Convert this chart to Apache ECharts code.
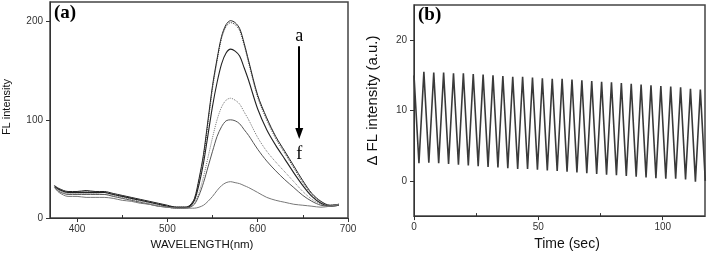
<!DOCTYPE html>
<html><head><meta charset="utf-8">
<script src="https://cdn.jsdelivr.net/npm/echarts@6/dist/echarts.min.js"></script>
<style>html,body{margin:0;padding:0;background:#fff}#c{width:709px;height:256px}</style>
</head><body><div id="c"></div>
<script>
// Panel (a): wavelength grid (nm) and FL intensity curves a..f
const wavelengths = [375,380,390,400,410,420,430,440,450,460,470,480,490,500,510,520,525,530,535,540,545,550,555,560,565,570,575,580,585,590,600,610,620,630,640,650,660,670,680,690];
const curveA = [33,30,27,27,28,27,27,25,23,21,19,17,15,13,11,11,13, 20,40,65,100,135,162,185,197,201,199,193,178,160,125,102,83,68,53,38,25,17,13,14];
const curveB = [33,29,26,27,27,27,26,24,22,20,18,16,14,12,11,11,12, 19,38,62,97,132,160,183,195,199,197,191,176,158,123,100,81,66,51,36,24,16,13,14];
const curveC = [32,29,26,26,26,26,26,24,22,20,18,16,14,12,11,11,12, 18,34,56,85,114,138,157,168,172,170,165,153,140,111,90,74,60,46,33,22,15,12,13];
const curveD = [32,28,25,25,25,25,24,23,21,19,17,15,13,11,10,10,11, 15,26,42,62,82,100,113,120,122,120,116,108,100,82,68,57,47,37,27,19,14,12,13];
const curveE = [31,27,24,24,24,24,24,22,20,18,16,14,12,11,10,10,11, 14,23,36,52,68,83,93,99,100,99,96,90,84,70,58,48,39,31,23,17,13,12,13];
const curveF = [31,26,22,22,21,21,21,20,18,17,15,14,12,11,10,10,10, 10,11,13,17,22,28,33,36,37,36,35,33,31,26,21,18,16,14,13,12,11,12,14];
const xTicksA = [400,500,600,700];
const xMinorA = [450,550,650];
const yTicksA = [0,100,200];

// Panel (b): oscillation peaks and troughs (delta FL intensity, a.u.)
const halfPeriod = 1.985; // seconds between a peak and the next trough
const peaksB = [15.0,15.5,15.4,15.4,15.3,15.3,15.2,15.1,15.0,14.9,14.8,14.8,14.7,14.6,14.5,14.5,14.4,14.3,14.2,14.1,14.0,13.9,13.8,13.7,13.6,13.5,13.4,13.3,13.1,13.0];
const troughsB = [2.5,2.6,2.5,2.4,2.3,2.2,2.1,2.0,1.9,1.8,1.7,1.7,1.6,1.5,1.4,1.3,1.2,1.1,1.0,0.9,0.8,0.7,0.6,0.5,0.4,0.3,0.3,0.2,-0.1,0.0];
const xTicksB = [0,50,100];
const xMinorB = [25,75];
const yTicksB = [0,10,20];

const seriesB = [];
for (let i = 0; i < peaksB.length; i++) {
  seriesB.push([2 * i * halfPeriod, peaksB[i]]);
  if (i < troughsB.length) seriesB.push([(2 * i + 1) * halfPeriod, troughsB[i]]);
}
const pair = arr => wavelengths.map((w, i) => [w, arr[i]]);

const font = 'Liberation Sans, Arial, sans-serif';
const axisCol = '#333';
const lbl = {color: '#333', fontSize: 10, fontFamily: font};

function xAx(gi, min, max, ticks, name, gap, fs, pad) {
  return {type: 'value', gridIndex: gi, min, max, name, nameLocation: 'middle', nameGap: gap,
    nameTextStyle: {fontSize: fs, fontFamily: font, color: '#111', padding: pad},
    axisLine: {show: true, onZero: false, lineStyle: {color: axisCol, width: 1}},
    axisTick: {show: true, length: 4, customValues: ticks, lineStyle: {color: axisCol}},
    axisLabel: Object.assign({customValues: ticks, margin: 6}, lbl),
    splitLine: {show: false}};
}
function xMinor(gi, min, max, ticks) {
  return {type: 'value', gridIndex: gi, min, max, position: 'bottom',
    axisLine: {show: false, onZero: false}, axisLabel: {show: false}, splitLine: {show: false},
    axisTick: {show: true, inside: true, length: 3, customValues: ticks, lineStyle: {color: axisCol}}};
}
function yAx(gi, min, max, ticks, name, gap, fs, pad) {
  return {type: 'value', gridIndex: gi, min, max, name, nameLocation: 'middle', nameGap: gap,
    nameTextStyle: {fontSize: fs, fontFamily: font, color: '#111', padding: pad},
    axisLine: {show: true, onZero: false, lineStyle: {color: axisCol, width: 1}},
    axisTick: {show: true, length: 4, customValues: ticks, lineStyle: {color: axisCol}},
    axisLabel: Object.assign({customValues: ticks, margin: 7}, lbl),
    splitLine: {show: false}};
}

function lineS(data, color, type, width) {
  return {type: 'line', xAxisIndex: 0, yAxisIndex: 0, data, showSymbol: false, symbol: 'none',
    smooth: 0.3, lineStyle: {color, type, width}, silent: true, animation: false};
}

const chart = echarts.init(document.getElementById('c'), null, {renderer: 'canvas'});
chart.setOption({
  animation: false,
  grid: [
    {left: 49, right: 361, top: 2, bottom: 36, show: true, borderColor: '#444', borderWidth: 1.5},
    {left: 414, right: 4, top: 5, bottom: 37, show: true, borderColor: '#444', borderWidth: 1.5}
  ],
  xAxis: [
    xAx(0, 370, 700, xTicksA, 'WAVELENGTH(nm)', 21, 11.5, [0, 0, 0, 6]),
    xAx(1, 0, 117, xTicksB, 'Time (sec)', 20, 14, [0, 0, 0, 15]),
    xMinor(0, 370, 700, xMinorA),
    xMinor(1, 0, 117, xMinorB)
  ],
  yAxis: [
    yAx(0, 0, 220, yTicksA, 'FL intensity', 38, 11, [0, 0, 0, 6]),
    yAx(1, -5, 25, yTicksB, 'Δ FL intensity (a.u.)', 34, 15, [0, 0, 0, 20])
  ],
  series: [
    lineS(pair(curveA), '#222', 'solid', 1),
    lineS(pair(curveB), '#333', 'dotted', 1),
    lineS(pair(curveC), '#222', 'solid', 1.1),
    lineS(pair(curveD), '#777', 'dotted', 1),
    lineS(pair(curveE), '#555', 'solid', 1),
    Object.assign(lineS(pair(curveF), '#777', 'solid', 1), {
      markLine: {silent: true, symbol: ['none', 'triangle'], symbolSize: [8, 11],
        lineStyle: {color: '#000', width: 2, type: 'solid'}, label: {show: false},
        data: [[{coord: [646, 175]}, {coord: [646, 86]}]]},
      markPoint: {silent: true, symbol: 'circle', symbolSize: 0,
        label: {show: true, color: '#000', fontFamily: 'Liberation Serif, Times New Roman, serif', fontSize: 18},
        data: [{coord: [646, 185], value: 'a', label: {formatter: 'a'}}, {coord: [646, 65], value: 'f', label: {formatter: 'f'}}]}
    }),
    {type: 'line', xAxisIndex: 1, yAxisIndex: 1, data: seriesB, showSymbol: false, symbol: 'none',
     lineStyle: {color: '#3a3a3a', width: 1.6}, clip: true, silent: true, animation: false}
  ],
  graphic: [
    {type: 'text', left: 54, top: 4, style: {text: '(a)', font: 'bold 19px "Liberation Serif", "Times New Roman", serif', fill: '#000'}},
    {type: 'text', left: 418, top: 6, style: {text: '(b)', font: 'bold 19px "Liberation Serif", "Times New Roman", serif', fill: '#000'}}
  ]
});
</script></body></html>
